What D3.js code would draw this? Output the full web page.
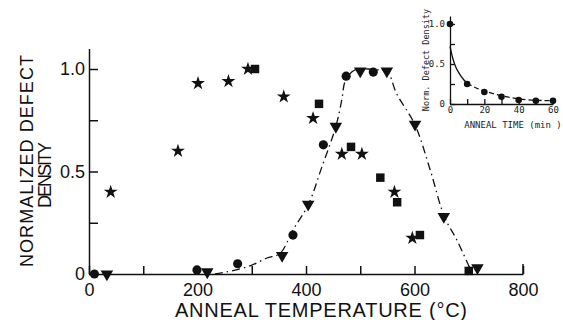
<!DOCTYPE html>
<html>
<head>
<meta charset="utf-8">
<script src="https://cdn.jsdelivr.net/npm/d3@7"></script>
<style>
  body { margin: 0; background: #fff; }
  svg { display: block; }
  .axis path, .axis line { stroke: #111; stroke-width: 1.5; }
  .axis text { font-family: "Liberation Sans", Arial, sans-serif; font-size: 18px; fill: #111; }
  .inset path, .inset line { stroke: #111; stroke-width: 1.3; }
  .inset text { font-family: "DejaVu Sans Mono", monospace; font-size: 9px; fill: #222; }
</style>
</head>
<body>
<script>
// main plot data: [anneal temperature (C), normalized defect density]
var starPts = [[40,0.40],[164,0.60],[201,0.93],[257,0.94],[293,1.0],[359,0.865],[413,0.76],[466,0.585],[503,0.585],[563,0.40],[596,0.175]];
var squarePts = [[306,1.0],[424,0.83],[483,0.62],[537,0.47],[568,0.35],[610,0.19],[700,0.015]];
var circlePts = [[10,0.0],[199,0.02],[274,0.05],[376,0.19],[432,0.63],[474,0.965],[524,0.985]];
var trianglePts = [[33,0.0],[218,0.01],[356,0.09],[404,0.34],[455,0.72],[500,0.99],[549,0.99],[601,0.73],[654,0.28],[716,0.03]];
// dash-dot guide curve
var guideCurve = [[232,0.0],[254,0.01],[297,0.04],[328,0.078],[352,0.10],[376,0.215],[404,0.337],[429,0.52],[455,0.72],[466,0.85],[473,0.946],[490,0.995],[515,1.0],[535,0.995],[550,0.987],[567,0.88],[601,0.727],[629,0.507],[655,0.28],[678,0.166],[702,0.03],[708,0.0]];
var xTicks = [0,100,200,300,400,500,600,700,800];
var yTicks = [0,0.25,0.5,0.75,1.0];

// inset data: [anneal time (min), normalized defect density]
var insetPts = [[0,1.0],[10,0.25],[20,0.15],[30,0.09],[40,0.05],[50,0.04],[60,0.04]];
var insetSolid = [[0,0.72],[1,0.62],[2,0.54],[3,0.48],[4,0.43],[6,0.36],[8,0.3],[10,0.26]];
var insetDashed = [[10,0.26],[15,0.2],[20,0.16],[30,0.1],[40,0.06],[50,0.045],[60,0.04]];
var insetXTicks = [0,10,20,30,40,50,60];
var insetYTicks = [0,0.25,0.5,0.75,1.0];

var W = 563, H = 320;
var svg = d3.select("body").append("svg").attr("width", W).attr("height", H);

// ---- main plot ----
var x = d3.scaleLinear().domain([0, 800]).range([89, 523]);
var y = d3.scaleLinear().domain([0, 1.1]).range([274, 48.5]);

var xAxis = d3.axisBottom(x).tickValues(xTicks).tickSizeInner(-8).tickSizeOuter(0).tickPadding(9)
  .tickFormat(function (d) { return d % 200 === 0 ? d : ""; });
svg.append("g").attr("class", "axis").attr("transform", "translate(0,274)").call(xAxis);
// end tick at 800
svg.append("line").attr("x1", x(800)).attr("x2", x(800)).attr("y1", 274).attr("y2", 264)
  .attr("stroke", "#111").attr("stroke-width", 1.5);

var yAxis = d3.axisLeft(y).tickValues(yTicks).tickSizeInner(-9).tickSizeOuter(0).tickPadding(4)
  .tickFormat(function (d) { return d === 0 ? "0" : d === 0.5 ? "0.5" : d === 1 ? "1.0" : ""; });
svg.append("g").attr("class", "axis").attr("transform", "translate(89,0)").call(yAxis);

// axis titles
svg.append("text").attr("x", 321).attr("y", 317).attr("text-anchor", "middle")
  .attr("textLength", 292).attr("lengthAdjust", "spacing")
  .style("font-family", "Liberation Sans, Arial, sans-serif").style("font-size", "20px").style("fill", "#111")
  .text("ANNEAL TEMPERATURE (\u00B0C)");
svg.append("text").attr("transform", "translate(33,161) rotate(-90)").attr("text-anchor", "middle")
  .attr("textLength", 212).attr("lengthAdjust", "spacing")
  .style("font-family", "Liberation Sans, Arial, sans-serif").style("font-size", "18px").style("fill", "#111")
  .text("NORMALIZED DEFECT");
svg.append("text").attr("transform", "translate(51,175) rotate(-90)").attr("text-anchor", "middle")
  .attr("textLength", 66).attr("lengthAdjust", "spacing")
  .style("font-family", "Liberation Sans, Arial, sans-serif").style("font-size", "18px").style("fill", "#111")
  .text("DENSITY");

// guide curve
var line = d3.line().x(function (d) { return x(d[0]); }).y(function (d) { return y(d[1]); }).curve(d3.curveCatmullRom);
svg.append("path").datum(guideCurve).attr("d", line).attr("fill", "none")
  .attr("stroke", "#111").attr("stroke-width", 1.3).attr("stroke-dasharray", "8,4,1.5,4");

// markers
function drawMarkers(data, type, size, rot) {
  svg.append("g").selectAll("path").data(data).enter().append("path")
    .attr("d", d3.symbol().type(type).size(size))
    .attr("transform", function (d) { return "translate(" + x(d[0]) + "," + y(d[1]) + ") rotate(" + rot + ")"; })
    .attr("fill", "#111");
}
drawMarkers(starPts, d3.symbolStar, 60, 0);
drawMarkers(squarePts, d3.symbolSquare, 72, 0);
drawMarkers(circlePts, d3.symbolCircle, 66, 0);
drawMarkers(trianglePts, d3.symbolTriangle, 68, 180);

// ---- inset ----
var ix = d3.scaleLinear().domain([0, 60]).range([450, 553]);
var iy = d3.scaleLinear().domain([0, 1.1]).range([104, 16]);

var ixAxis = d3.axisBottom(ix).tickValues(insetXTicks).tickSizeInner(-5).tickSizeOuter(0).tickPadding(3)
  .tickFormat(function (d) { return d % 20 === 0 ? d : ""; });
svg.append("g").attr("class", "inset").attr("transform", "translate(0,104)").call(ixAxis);

var iyAxis = d3.axisLeft(iy).tickValues(insetYTicks).tickSizeInner(-5).tickSizeOuter(0).tickPadding(5)
  .tickFormat(function (d) { return d === 0 ? "0" : d === 0.5 ? "0.5" : d === 1 ? "1.0" : ""; });
svg.append("g").attr("class", "inset").attr("transform", "translate(450,0)").call(iyAxis);

svg.append("text").attr("x", 513).attr("y", 128).attr("text-anchor", "middle")
  .style("font-family", "DejaVu Sans Mono, monospace").style("font-size", "9px").style("fill", "#222")
  .text("ANNEAL TIME (min )");
svg.append("text").attr("transform", "translate(429,60) rotate(-90)").attr("text-anchor", "middle")
  .style("font-family", "DejaVu Sans Mono, monospace").style("font-size", "8.5px").style("fill", "#222")
  .text("Norm. Defect Density");

var iline = d3.line().x(function (d) { return ix(d[0]); }).y(function (d) { return iy(d[1]); }).curve(d3.curveBasis);
svg.append("path").datum(insetSolid).attr("d", iline).attr("fill", "none").attr("stroke", "#111").attr("stroke-width", 1.3);
svg.append("path").datum(insetDashed).attr("d", iline).attr("fill", "none").attr("stroke", "#111")
  .attr("stroke-width", 1.3).attr("stroke-dasharray", "5,3");

svg.append("g").selectAll("circle").data(insetPts).enter().append("circle")
  .attr("cx", function (d) { return ix(d[0]); }).attr("cy", function (d) { return iy(d[1]); })
  .attr("r", 3.3).attr("fill", "#111");
</script>
</body>
</html>
